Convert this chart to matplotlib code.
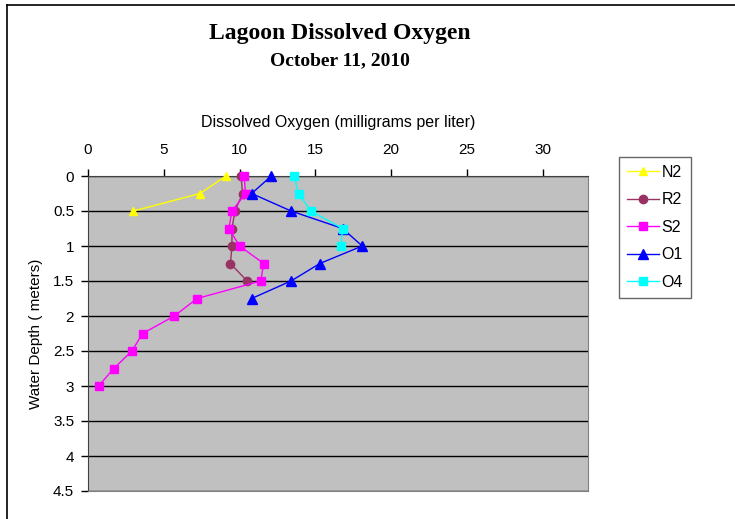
import matplotlib
matplotlib.use('Agg')
import matplotlib.pyplot as plt
from matplotlib.lines import Line2D

# depth readings (m) and dissolved oxygen (mg/L) per station
n2_depth = [0, 0.25, 0.5]
n2_do = [9.1, 7.4, 3.0]

r2_depth = [0, 0.25, 0.5, 0.75, 1.0, 1.25, 1.5]
r2_do = [10.1, 10.2, 9.7, 9.5, 9.5, 9.4, 10.5]

s2_depth = [0, 0.25, 0.5, 0.75, 1.0, 1.25, 1.5, 1.75, 2.0, 2.25, 2.5, 2.75, 3.0]
s2_do = [10.3, 10.4, 9.5, 9.3, 10.0, 11.6, 11.4, 7.2, 5.7, 3.6, 2.9, 1.7, 0.7]

o1_depth = [0, 0.25, 0.5, 0.75, 1.0, 1.25, 1.5, 1.75]
o1_do = [12.1, 10.8, 13.4, 16.8, 18.1, 15.3, 13.4, 10.8]

o4_depth = [0, 0.25, 0.5, 0.75, 1.0]
o4_do = [13.6, 13.9, 14.7, 16.8, 16.7]

x_ticks = [0, 5, 10, 15, 20, 25, 30]
y_ticks = [0, 0.5, 1, 1.5, 2, 2.5, 3, 3.5, 4, 4.5]

plt.rcParams['font.family'] = ['Liberation Sans', 'DejaVu Sans']

fig = plt.figure(figsize=(7.35, 5.19), dpi=100)
ax = fig.add_axes([88 / 735, 1 - 491 / 519, 500 / 735, 315 / 519])
ax.set_facecolor('#C0C0C0')

style = dict(lw=1, clip_on=False, zorder=3)
ax.plot(n2_do, n2_depth, color='#FFFF00', marker='^', markersize=6, label='N2', **style)
ax.plot(r2_do, r2_depth, color='#993366', marker='o', markersize=6, label='R2', **style)
ax.plot(s2_do, s2_depth, color='#FF00FF', marker='s', markersize=6, label='S2', **style)
ax.plot(o1_do, o1_depth, color='#0000FF', marker='^', markersize=7, label='O1', **style)
ax.plot(o4_do, o4_depth, color='#00FFFF', marker='s', markersize=6, label='O4', **style)

ax.set_xlim(0, 33)
ax.set_ylim(4.5, 0)
ax.set_xticks(x_ticks)
ax.set_yticks(y_ticks)
ax.set_yticklabels([f'{v:g}' for v in y_ticks])
ax.xaxis.tick_top()
ax.xaxis.set_label_position('top')
ax.tick_params(axis='both', direction='out', length=5, width=1, labelsize=11, colors='black')
ax.tick_params(axis='x', pad=9)
ax.tick_params(axis='y', pad=5)
ax.grid(axis='y', color='black', lw=1)
ax.set_axisbelow(True)
for side in ['right', 'bottom']:
    ax.spines[side].set_color('#808080')
ax.spines['left'].set_color('#404040')
ax.spines['top'].set_color('#404040')

ax.set_xlabel('Dissolved Oxygen (milligrams per liter)', fontsize=11.5, labelpad=11.5)
ax.set_ylabel('Water Depth ( meters)', fontsize=11, labelpad=7)

fig.text(340 / 735, 1 - 34 / 519, 'Lagoon Dissolved Oxygen', ha='center', va='center',
         family='Liberation Serif', fontweight='bold', fontsize=17)
fig.text(340 / 735, 1 - 61 / 519, 'October 11, 2010', ha='center', va='center',
         family='Liberation Serif', fontweight='bold', fontsize=14)

leg = ax.legend(loc='upper left', bbox_to_anchor=(619 / 735, 1 - 157 / 519),
                bbox_transform=fig.transFigure, borderaxespad=0, fontsize=11.5,
                frameon=True, fancybox=False, edgecolor='#404040', handlelength=2.0,
                labelspacing=0.78, borderpad=0.5, handletextpad=0.15)
leg.get_frame().set_linewidth(1)

# outer chart border (top and left edges visible)
fig.add_artist(Line2D([7 / 735, 1], [1 - 5 / 519, 1 - 5 / 519], color='black', lw=1.2,
                      transform=fig.transFigure))
fig.add_artist(Line2D([7 / 735, 7 / 735], [0, 1 - 5 / 519], color='black', lw=1.2,
                      transform=fig.transFigure))

fig.savefig('out.png', dpi=100)
